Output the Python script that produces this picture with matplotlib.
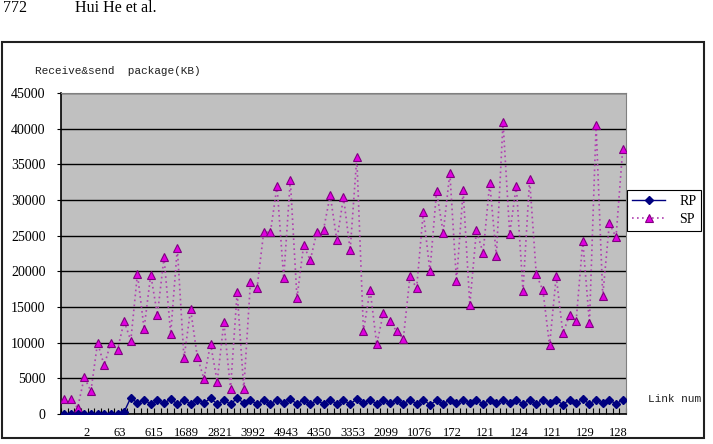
import matplotlib
matplotlib.use("Agg")
import matplotlib.pyplot as plt
from matplotlib.patches import Rectangle
from matplotlib.ticker import FixedLocator, MultipleLocator
import numpy as np

# received packages per link sample (KB)
rp_values = [
    0, 0, 0, 0, 0, 0, 0, 0, 0, 300,
    2300, 1500, 2000, 1400, 1900, 1500, 2100, 1400, 2000, 1400,
    2000, 1550, 2200, 1400, 1900, 1400, 2200, 1550, 1900, 1400,
    2000, 1400, 2000, 1550, 2100, 1400, 2000, 1400, 1900, 1400,
    2000, 1400, 1900, 1400, 2100, 1550, 2000, 1400, 2000, 1550,
    2000, 1400, 2000, 1400, 2000, 1300, 1900, 1400, 2000, 1550,
    2000, 1550, 2000, 1400, 2000, 1550, 2000, 1550, 2000, 1400,
    2000, 1400, 2000, 1500, 2000, 1300, 2000, 1500, 2100, 1400,
    2000, 1500, 2000, 1400, 2000,
]
# sent packages per link sample (KB)
sp_values = [
    2100, 2100, 850, 5150, 3200, 10000, 6800, 10000, 9000, 13000,
    10300, 19650, 11950, 19550, 13900, 21950, 11250, 23300, 7800, 14650,
    8050, 4950, 9850, 4550, 12880, 3500, 17100, 3500, 18500, 17700,
    25550, 25450, 31950, 19050, 32800, 16250, 23650, 21550, 25550, 25850,
    30700, 24350, 30400, 22950, 35980, 11600, 17450, 9750, 14200, 13000,
    11600, 10550, 19300, 17650, 28300, 20000, 31250, 25400, 33800, 18600,
    31350, 15300, 25750, 22550, 32400, 22100, 40950, 25300, 31950, 17280,
    32900, 19580, 17320, 9620, 19300, 11320, 13820, 13020, 24280, 12760,
    40500, 16560, 26740, 24780, 37080,
]
# category labels shown every fifth sample
tick_labels = ["2", "63", "615", "1689", "2821", "3992", "4943", "4350", "3353",
               "2099", "1076", "172", "121", "124", "121", "129", "128"]

W, H = 713, 444
fig = plt.figure(figsize=(W / 100, H / 100), dpi=100)
fig.patch.set_facecolor("white")


def fx(px):
    return px / W


def fy(py):
    return 1 - py / H


serif = ["Liberation Serif", "DejaVu Serif"]
mono = ["Liberation Mono", "DejaVu Sans Mono"]

ax = fig.add_axes([fx(61), fy(414), fx(626) - fx(61), fy(93) - fy(414)])
ax.set_facecolor("#c0c0c0")

x = np.arange(len(sp_values))
ax.plot(x, rp_values, color="#000080", lw=1.0, marker="D", ms=4.5,
        mfc="#000080", mec="#000080", label="RP", zorder=4)
ax.plot(x, sp_values, color="#b040b0", lw=1.2, ls=(0, (1, 2)), marker="^", ms=6,
        mfc="#e000e0", mec="#800080", mew=0.8, label="SP", zorder=3)

ax.set_xlim(-0.5, len(sp_values) - 0.5)
ax.set_ylim(0, 45000)
ax.yaxis.set_major_locator(MultipleLocator(5000))
ax.grid(axis="y", color="#000000", lw=1.0)
ax.set_axisbelow(True)

label_pos = [3.4 + 5 * k for k in range(len(tick_labels))]
ax.set_xticks(label_pos)
ax.set_xticklabels(tick_labels, family=serif, fontsize=9)
ax.tick_params(axis="x", which="major", length=0, pad=9)
ax.xaxis.set_minor_locator(FixedLocator(np.arange(-0.5, len(sp_values), 1.0)))
ax.tick_params(axis="x", which="minor", direction="in", length=4, color="black", width=0.8)
ax.tick_params(axis="y", direction="out", length=3, pad=8, labelsize=10)
for t in ax.get_yticklabels():
    t.set_family(serif)

for side in ("top", "right"):
    ax.spines[side].set_color("#808080")
for side in ("left", "bottom"):
    ax.spines[side].set_color("#000000")
    ax.spines[side].set_linewidth(1.2)

leg = ax.legend(loc="upper left", bbox_to_anchor=(fx(627), fy(190)),
                bbox_transform=fig.transFigure, borderaxespad=0,
                prop={"family": serif, "size": 10}, frameon=True, fancybox=False,
                edgecolor="black", facecolor="white", framealpha=1,
                handlelength=2.4, labelspacing=0.35, borderpad=0.35,
                handletextpad=1.0)
leg.get_frame().set_linewidth(0.8)

fig.text(fx(35), fy(71), "Receive&send  package(KB)", family=mono, fontsize=8,
         ha="left", va="center", color="#202020")
fig.text(fx(648), fy(399), "Link num.", family=mono, fontsize=8,
         ha="left", va="center", color="#202020")

fig.text(fx(3), fy(12), "772", family=serif, fontsize=11.5, ha="left", va="baseline")
fig.text(fx(75), fy(12), "Hui He et al.", family=serif, fontsize=11.5,
         ha="left", va="baseline")

fig.patches.append(Rectangle((fx(2), fy(438)), fx(704) - fx(2), fy(42) - fy(438),
                             transform=fig.transFigure, fill=False,
                             edgecolor="#202020", lw=1.5))

fig.savefig("out.png", dpi=100, facecolor=fig.get_facecolor())
